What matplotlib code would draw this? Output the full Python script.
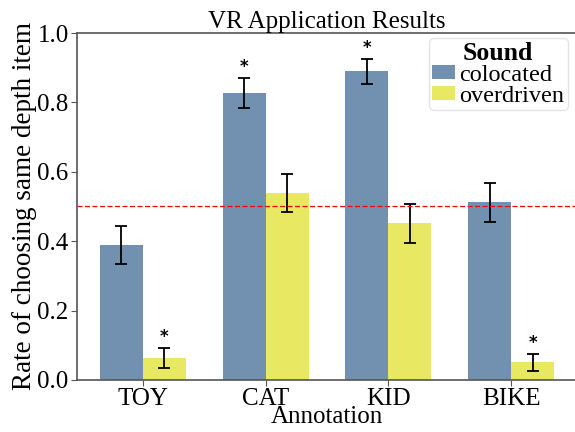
import matplotlib.pyplot as plt
import numpy as np

plt.rcParams['font.family'] = ['Liberation Serif', 'DejaVu Serif']

# Rates per annotation for each sound condition, with error bar half-widths
annotations = ['TOY', 'CAT', 'KID', 'BIKE']
colocated = [0.389, 0.827, 0.890, 0.512]
colocated_err = [0.055, 0.042, 0.036, 0.056]
overdriven = [0.063, 0.540, 0.452, 0.051]
overdriven_err = [0.028, 0.055, 0.056, 0.025]

# Significance markers
colocated_sig = [False, True, True, False]
overdriven_sig = [True, False, False, True]

blue = '#7291b0'
yellow = '#e8e862'
width = 0.35
x = np.arange(len(annotations))

fig = plt.figure(figsize=(5.75, 4.32), dpi=100)
ax = fig.add_axes([0.134, 0.1204, 0.8696, 0.8032])

ax.bar(x - width / 2, colocated, width, color=blue, label='colocated')
ax.bar(x + width / 2, overdriven, width, color=yellow, label='overdriven')
ax.errorbar(x - width / 2, colocated, yerr=colocated_err, fmt='none',
            ecolor='black', elinewidth=1.3, capsize=4, capthick=1.3)
ax.errorbar(x + width / 2, overdriven, yerr=overdriven_err, fmt='none',
            ecolor='black', elinewidth=1.3, capsize=4, capthick=1.3)

for xi, v, e, s in zip(x - width / 2, colocated, colocated_err, colocated_sig):
    if s:
        ax.text(xi, v + e + 0.006, '*', ha='center', va='bottom',
                fontsize=12, fontweight='bold', family='DejaVu Sans')
for xi, v, e, s in zip(x + width / 2, overdriven, overdriven_err, overdriven_sig):
    if s:
        ax.text(xi, v + e + 0.006, '*', ha='center', va='bottom',
                fontsize=12, fontweight='bold', family='DejaVu Sans')

ax.axhline(0.5, color='red', linestyle='--', linewidth=0.9, dashes=(4, 2))

ax.set_ylim(0, 1.0)
ax.set_xlim(-0.535, 3.535)
ax.set_xticks(x)
ax.set_xticklabels(annotations)
ax.set_yticks([0.0, 0.2, 0.4, 0.6, 0.8, 1.0])
ax.tick_params(labelsize=18, color='#555555', length=4, pad=2)

for side in ['left', 'top', 'bottom']:
    ax.spines[side].set_color('#555555')
    ax.spines[side].set_linewidth(1.2)
ax.spines['right'].set_visible(False)

ax.set_title('VR Application Results', fontsize=18, pad=3)
ax.set_xlabel('Annotation', fontsize=18, labelpad=-3)
ax.set_ylabel('Rate of choosing same depth item', fontsize=19.5, labelpad=0)

leg = ax.legend(title='Sound', loc='upper right', bbox_to_anchor=(0.991, 1.0),
                fontsize=17.5, title_fontproperties={'weight': 'bold', 'size': 18.5},
                handlelength=0.95, handleheight=0.5, handletextpad=0.15,
                labelspacing=0.0, borderpad=0.15, borderaxespad=0.2)
leg.get_frame().set_edgecolor('#dddddd')
leg._legend_box.sep = 0

fig.savefig('out.png', dpi=100)
